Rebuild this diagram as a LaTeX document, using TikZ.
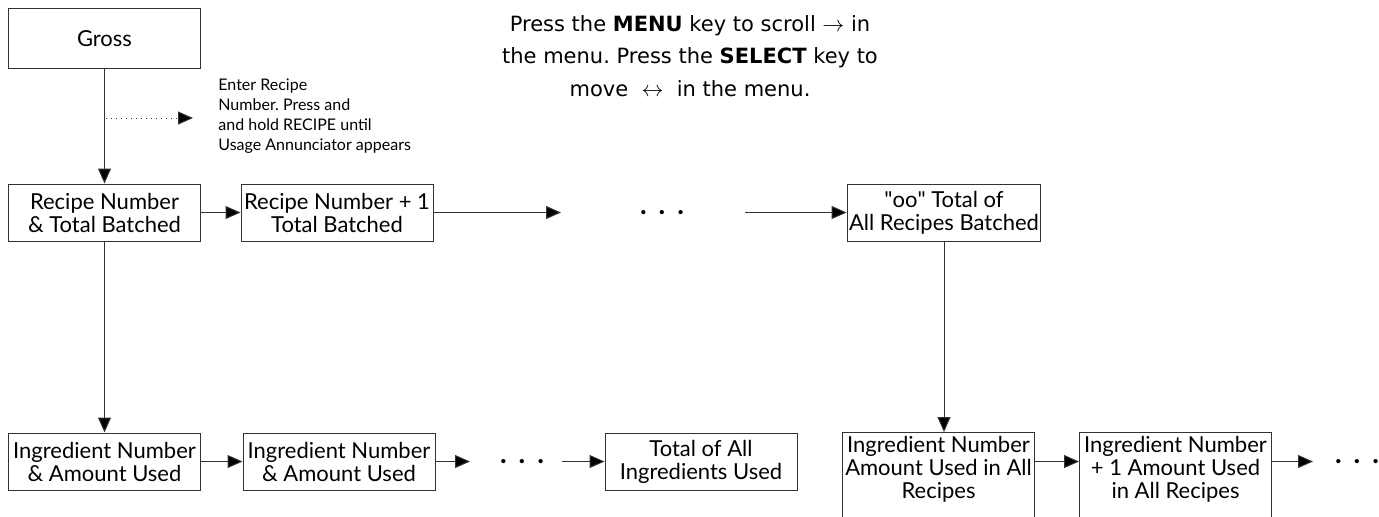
\documentclass[tikz,border=0pt]{standalone}
\usepackage{fontspec}
\setmainfont{Lato}
\newfontfamily\notefont{DejaVu Sans}
\usetikzlibrary{arrows.meta, positioning, calc}
\frenchspacing

\begin{document}
\begin{tikzpicture}[x=0.5pt, y=-0.5pt,
		block/.style={rectangle, draw=black!80, line width=0.5pt, minimum width=96pt, minimum height=28.5pt, align=center, inner sep=1pt, font=\fontsize{11}{11.5}\selectfont},
		tallblock/.style={block, anchor=north, inner ysep=2pt, text depth=22pt},
		dots/.style={inner sep=0pt, font=\bfseries\fontsize{14}{14}\selectfont},
		line/.style={draw=black!80, line width=0.5pt, -{Triangle[length=7.5pt, width=6.5pt, fill=black]}}]

		\useasboundingbox (0,0) rectangle (1379,516);

		\node [block, minimum height=30pt] (gross) at (104.5,38.5) {Gross};
		\node [block] (recipe) at (104.5,212.5) {Recipe Number\\ \& Total Batched};
		\node [block] (recipenext) at (337,212.5) {Recipe Number + 1\\ Total Batched};
		\node [dots] (dotsrecipe) at (662,212.5) {.\hspace{6pt}.\hspace{6pt}.};
		\node [block] (allrecipes) at (944,212.5) {\textquotedbl oo\textquotedbl{} Total of\\ All Recipes Batched};

		\node [block] (ingr) at (104.5,461.5) {Ingredient Number\\ \& Amount Used};
		\node [block] (ingrnext) at (339,461.5) {Ingredient Number\\ \& Amount Used};
		\node [dots] (dotsingr) at (522,461.5) {.\hspace{6pt}.\hspace{6pt}.};
		\node [block] (totalingr) at (701,461.5) {Total of All\\ Ingredients Used};
		\node [tallblock] (ingrall) at (938.5,432) {Ingredient Number\\ Amount Used in All\\ Recipes};
		\node [tallblock] (ingrallnext) at (1175.5,432) {Ingredient Number\\ + 1 Amount Used\\ in All Recipes};
		\node [dots] (dotsall) at (1357,461.5) {.\hspace{6pt}.\hspace{6pt}.};

		% Notes
		\node [align=left, anchor=north west, inner sep=0pt, font=\fontsize{8}{10}\selectfont] (enternote) at (218,78)
			{Enter Recipe\\ Number. Press and\\ and hold RECIPE until\\ Usage Annunciator appears};
		\node [align=center, font=\notefont\fontsize{10.5}{16.25}\selectfont] (menunote) at (690,56)
			{Press the \textbf{MENU} key to scroll $\rightarrow$ in\\ the menu. Press the \textbf{SELECT} key to\\ move \ $\leftrightarrow$ \ in the menu.};

		\coordinate (dotstart) at (106,118);
		\coordinate (dotend) at (193,118);
		\coordinate (toprowend) at (561,212.5);
		\coordinate (toprowstart) at (745,212.5);
		\coordinate (botrowend) at (470,461.5);
		\coordinate (botrowstart) at (562,461.5);
		\coordinate (lastend) at (1313,461.5);

		% Links
		\path [line] (gross) -- (recipe);
		\path [line, dotted] (dotstart) -- (dotend);
		\path [line] (recipe) -- (recipenext);
		\path [line] (recipenext) -- (toprowend);
		\path [line] (toprowstart) -- (allrecipes);
		\path [line] (recipe) -- (ingr);
		\path [line] (allrecipes.south) -- (allrecipes.south |- ingrall.north);
		\path [line] (ingr) -- (ingrnext);
		\path [line] (ingrnext) -- (botrowend);
		\path [line] (botrowstart) -- (totalingr);
		\path [line] (ingrall.east |- ingr.east) -- (ingrallnext.west |- ingr.east);
		\path [line] (ingrallnext.east |- ingr.east) -- (lastend);

	\end{tikzpicture}
\end{document}
